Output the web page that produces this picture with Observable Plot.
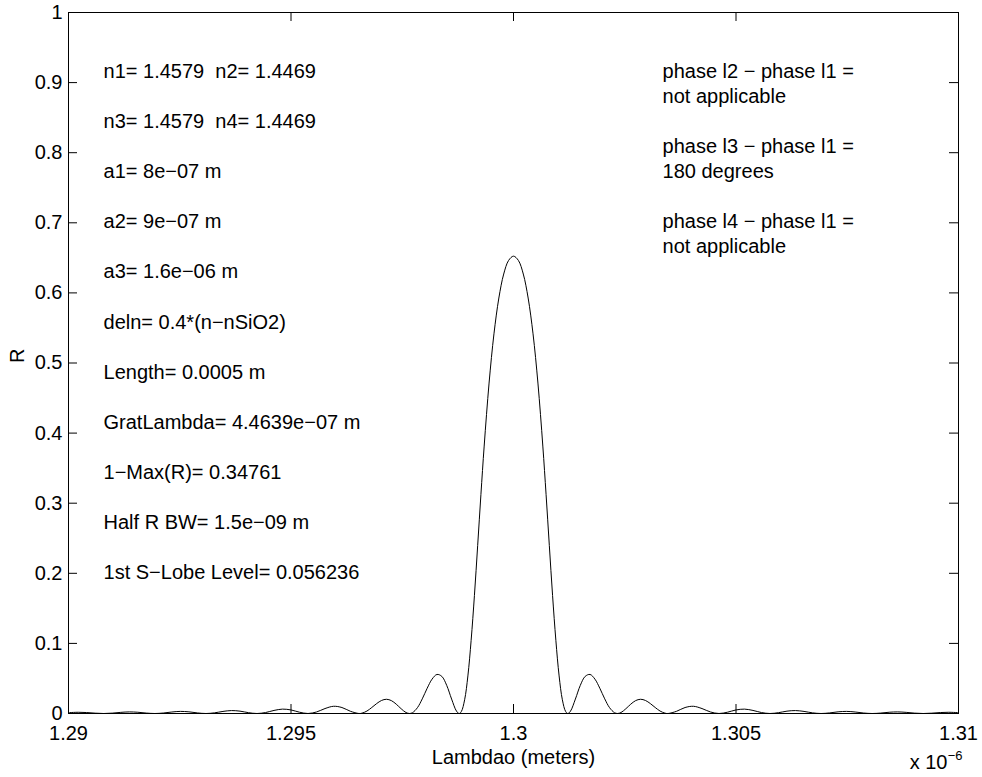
<!DOCTYPE html>
<html><head><meta charset="utf-8">
<script src="https://cdn.jsdelivr.net/npm/d3@7"></script>
<script src="https://cdn.jsdelivr.net/npm/@observablehq/plot@0.6"></script>
<style>html,body{margin:0;padding:0;background:#fff;} #chart svg{display:block;}</style>
</head><body><div id="chart"></div>
<script>
// Wavelength (x 1e-6 m) and reflectance R
const lambda = [
  1.290000, 1.290026, 1.290218, 1.290409, 1.290601, 1.290792, 1.290984, 1.291175, 1.291367, 1.291558,
  1.291749, 1.291941, 1.292132, 1.292323, 1.292515, 1.292706, 1.292898, 1.293089, 1.293280, 1.293471,
  1.293663, 1.293854, 1.294045, 1.294236, 1.294427, 1.294618, 1.294809, 1.295001, 1.295191, 1.295382,
  1.295573, 1.295764, 1.295955, 1.296145, 1.296336, 1.296526, 1.296596, 1.296706, 1.296816, 1.296926,
  1.297035, 1.297145, 1.297255, 1.297365, 1.297475, 1.297584, 1.297664, 1.297731, 1.297841, 1.297950,
  1.298060, 1.298170, 1.298280, 1.298390, 1.298499, 1.298609, 1.298719, 1.298779, 1.298829, 1.298902,
  1.298975, 1.299048, 1.299122, 1.299195, 1.299268, 1.299341, 1.299451, 1.299561, 1.299671, 1.299780,
  1.299890, 1.300000, 1.300110, 1.300220, 1.300329, 1.300439, 1.300549, 1.300659, 1.300732, 1.300805,
  1.300878, 1.300952, 1.301025, 1.301098, 1.301171, 1.301221, 1.301281, 1.301391, 1.301501, 1.301610,
  1.301720, 1.301830, 1.301940, 1.302050, 1.302159, 1.302269, 1.302336, 1.302416, 1.302525, 1.302635,
  1.302745, 1.302855, 1.302965, 1.303074, 1.303184, 1.303294, 1.303404, 1.303474, 1.303664, 1.303855,
  1.304045, 1.304236, 1.304427, 1.304618, 1.304809, 1.304999, 1.305191, 1.305382, 1.305573, 1.305764,
  1.305955, 1.306146, 1.306337, 1.306529, 1.306720, 1.306911, 1.307102, 1.307294, 1.307485, 1.307677,
  1.307868, 1.308059, 1.308251, 1.308442, 1.308633, 1.308825, 1.309016, 1.309208, 1.309399, 1.309591,
  1.309782, 1.309974, 1.310000
];
const reflect = [
  0.0012, 0.00127, 0.00176, 0.00137, 0.00048, 0, 0.00052, 0.00162, 0.00226, 0.00177,
  0.00062, 0, 0.00068, 0.00214, 0.00300, 0.00238, 0.00084, 0, 0.00093, 0.00297,
  0.00419, 0.00335, 0.00119, 0, 0.00136, 0.00437, 0.00625, 0.00506, 0.00183, 0,
  0.00216, 0.00705, 0.01029, 0.00852, 0.00316, 0, 0.0005, 0.0035, 0.0086, 0.0142,
  0.0186, 0.0203, 0.0184, 0.0133, 0.0068, 0.0014, 0, 0.0012, 0.0083, 0.0209,
  0.0360, 0.0490, 0.0557, 0.0529, 0.0401, 0.0206, 0.0034, 0, 0.0029, 0.0196,
  0.0536, 0.1044, 0.1684, 0.2398, 0.3126, 0.3815, 0.4714, 0.5416, 0.5927, 0.6269,
  0.6463, 0.6524, 0.6463, 0.6269, 0.5927, 0.5416, 0.4714, 0.3815, 0.3126, 0.2398,
  0.1684, 0.1044, 0.0536, 0.0196, 0.0029, 0, 0.0034, 0.0206, 0.0401, 0.0529,
  0.0557, 0.0490, 0.0360, 0.0209, 0.0083, 0.0012, 0, 0.0014, 0.0068, 0.0133,
  0.0184, 0.0203, 0.0186, 0.0142, 0.0086, 0.0035, 0.0005, 0, 0.00316, 0.00852,
  0.01029, 0.00705, 0.00216, 0, 0.00183, 0.00506, 0.00625, 0.00437, 0.00136, 0,
  0.00119, 0.00335, 0.00419, 0.00297, 0.00093, 0, 0.00084, 0.00238, 0.00300, 0.00214,
  0.00068, 0, 0.00062, 0.00177, 0.00226, 0.00162, 0.00052, 0, 0.00048, 0.00137,
  0.00176, 0.00127, 0.0012
];

const xTicks = [1.29, 1.295, 1.3, 1.305, 1.31];
const xTickLabels = ["1.29", "1.295", "1.3", "1.305", "1.31"];
const yTicks = [0, 0.1, 0.2, 0.3, 0.4, 0.5, 0.6, 0.7, 0.8, 0.9, 1];
const yTickLabels = ["0", "0.1", "0.2", "0.3", "0.4", "0.5", "0.6", "0.7", "0.8", "0.9", "1"];

const leftNotes = [
  "n1= 1.4579  n2= 1.4469",
  "n3= 1.4579  n4= 1.4469",
  "a1= 8e\u221207 m",
  "a2= 9e\u221207 m",
  "a3= 1.6e\u221206 m",
  "deln= 0.4*(n\u2212nSiO2)",
  "Length= 0.0005 m",
  "GratLambda= 4.4639e\u221207 m",
  "1\u2212Max(R)= 0.34761",
  "Half R BW= 1.5e\u221209 m",
  "1st S\u2212Lobe Level= 0.056236"
];
const rightNotes = [
  "phase l2 \u2212 phase l1 =", "not applicable",
  "phase l3 \u2212 phase l1 =", "180 degrees",
  "phase l4 \u2212 phase l1 =", "not applicable"
];
const xLabel = "Lambdao (meters)";
const yLabel = "R";

const W = 982, H = 777, mL = 68, mR = 24, mT = 12, mB = 64;
const fw = W - mL - mR, fh = H - mT - mB;
const tick = 9;
const data = lambda.map((x, i) => ({x, r: reflect[i]}));
const font = "'Liberation Sans', Arial, Helvetica, sans-serif";

const plot = Plot.plot({
  width: W, height: H,
  marginLeft: mL, marginRight: mR, marginTop: mT, marginBottom: mB,
  style: {fontFamily: font, fontSize: "20px", color: "black", background: "white"},
  x: {domain: [1.29, 1.31], label: null},
  y: {domain: [0, 1], label: null},
  marks: [
    Plot.axisX({ticks: xTicks, tickFormat: d => xTickLabels[xTicks.indexOf(d)], tickSize: 0, tickPadding: 12, fontSize: 20, label: null}),
    Plot.axisY({ticks: yTicks, tickFormat: d => yTickLabels[yTicks.indexOf(d)], tickSize: 0, tickPadding: 6, fontSize: 20, label: null}),
    Plot.tickX(xTicks, {x: d => d, insetTop: fh - tick, stroke: "black"}),
    Plot.tickX(xTicks, {x: d => d, insetBottom: fh - tick, stroke: "black"}),
    Plot.tickY(yTicks, {y: d => d, insetRight: fw - tick, stroke: "black"}),
    Plot.tickY(yTicks, {y: d => d, insetLeft: fw - tick, stroke: "black"}),
    Plot.line(data, {x: "x", y: "r", curve: "catmull-rom", stroke: "black", strokeWidth: 1}),
    Plot.frame({stroke: "black", strokeWidth: 1}),
    Plot.text(leftNotes, {x: () => 1.290787, y: (d, i) => 0.9158 - 0.0715 * i, text: d => d, textAnchor: "start", fontSize: 20, fill: "black"}),
    Plot.text(rightNotes, {x: () => 1.30335, y: (d, i) => 0.9158 - 0.107 * Math.floor(i / 2) - 0.0357 * (i % 2), text: d => d, textAnchor: "start", fontSize: 20, fill: "black"}),
    Plot.text([xLabel], {frameAnchor: "bottom", dy: 50, text: d => d, fontSize: 20, fill: "black"}),
    Plot.text([yLabel], {frameAnchor: "left", dx: -51, rotate: -90, text: d => d, fontSize: 20, fill: "black"}),
    Plot.text(["x 10"], {frameAnchor: "bottom-right", textAnchor: "end", dx: -11, dy: 55, text: d => d, fontSize: 20, fill: "black"}),
    Plot.text(["\u22126"], {frameAnchor: "bottom-right", textAnchor: "end", dx: 4, dy: 46, text: d => d, fontSize: 13, fill: "black"})
  ]
});
document.getElementById("chart").appendChild(plot);
</script>
</body></html>
